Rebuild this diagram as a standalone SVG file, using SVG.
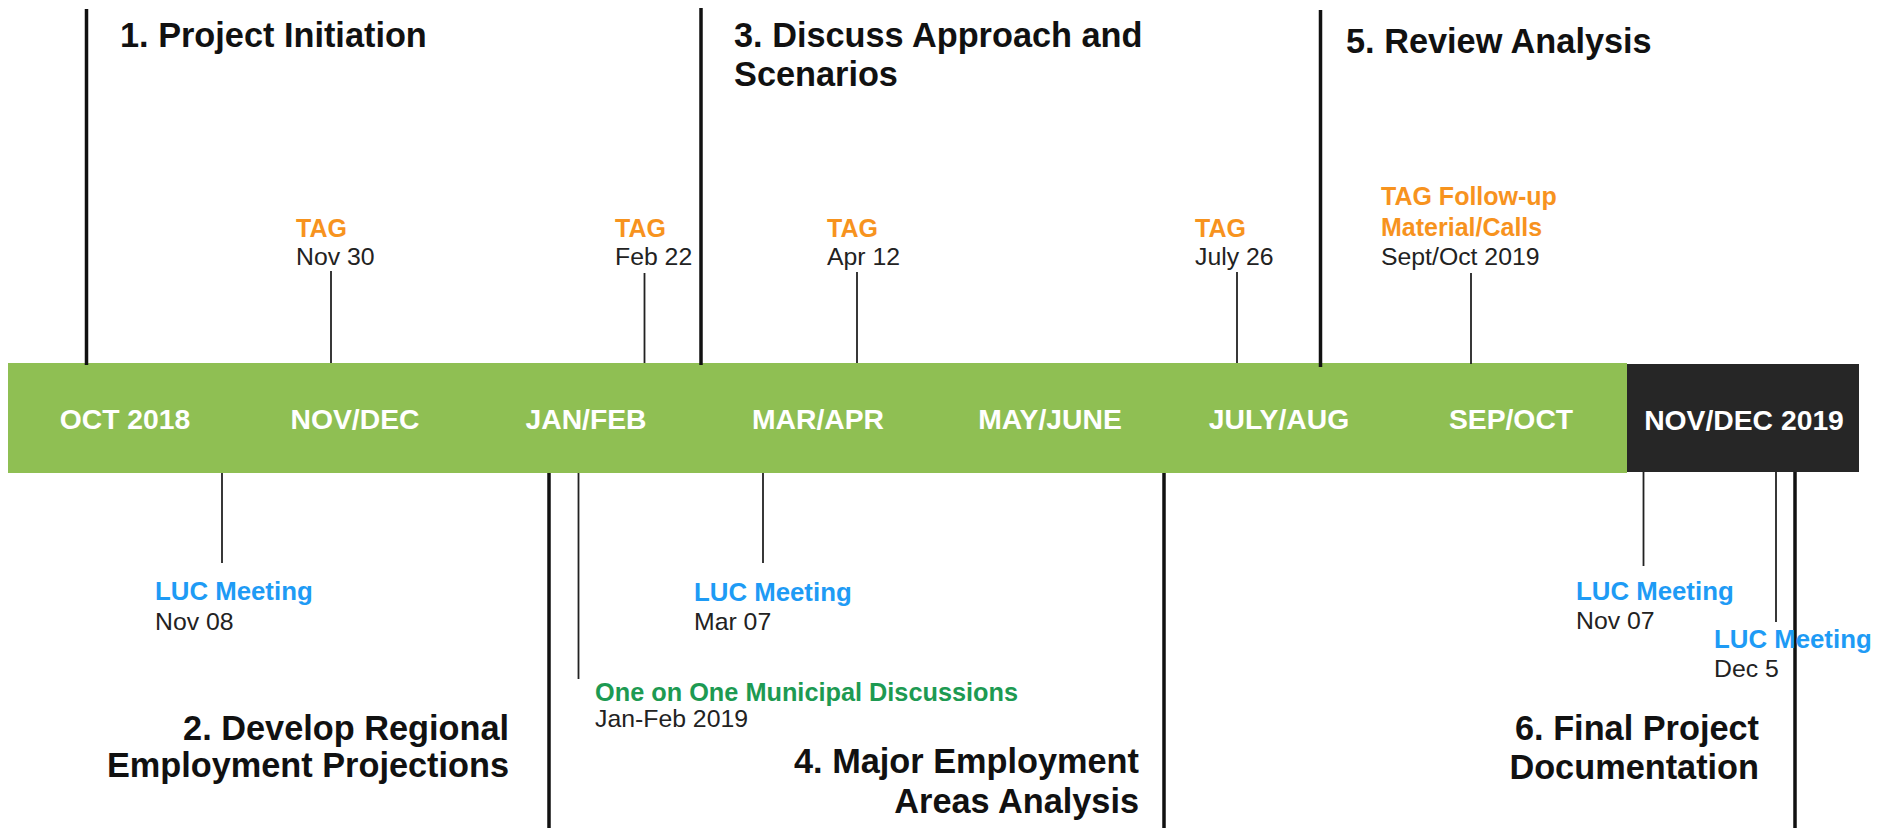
<svg xmlns="http://www.w3.org/2000/svg" width="1892" height="828" viewBox="0 0 1892 828">
<style>
text{font-family:"Liberation Sans",Arial,Helvetica,sans-serif}
.title{font-size:34.3px;font-weight:bold;fill:#111}
.month{font-size:28.3px;font-weight:bold;fill:#fff;text-anchor:middle}
.tag{font-size:25px;font-weight:bold;fill:#f7931e}
.luc{font-size:25.8px;font-weight:bold;fill:#1e9bf5}
.muni{font-size:25.3px;font-weight:bold;fill:#1d9a52}
.date{font-size:24.8px;fill:#222}
.phase{stroke:#111;stroke-width:3.5;fill:none}
.tick{stroke:#222;stroke-width:1.8;fill:none}
</style>
<rect width="1892" height="828" fill="#fff"/>
<g id="timeline">
<rect x="8" y="363" width="1619" height="110" fill="#8fbf53"/>
<rect x="1627" y="364" width="232" height="108" fill="#262626"/>
<text class="month" x="125" y="429">OCT 2018</text>
<text class="month" x="355" y="429">NOV/DEC</text>
<text class="month" x="586" y="429">JAN/FEB</text>
<text class="month" x="818" y="429">MAR/APR</text>
<text class="month" x="1050" y="429">MAY/JUNE</text>
<text class="month" x="1279" y="429">JULY/AUG</text>
<text class="month" x="1511" y="429">SEP/OCT</text>
<text class="month" x="1744" y="430">NOV/DEC 2019</text>
</g>
<g id="connectors">
<line class="phase" x1="86.5" y1="9" x2="86.5" y2="365"/>
<line class="phase" x1="701" y1="8" x2="701" y2="365"/>
<line class="phase" x1="1320.5" y1="10" x2="1320.5" y2="367"/>
<line class="phase" x1="549" y1="473" x2="549" y2="828"/>
<line class="phase" x1="1164" y1="473" x2="1164" y2="828"/>
<line class="phase" x1="1795" y1="472" x2="1795" y2="828"/>
<line class="tick" x1="331" y1="271" x2="331" y2="363"/>
<line class="tick" x1="644.5" y1="273" x2="644.5" y2="363"/>
<line class="tick" x1="857" y1="272" x2="857" y2="363"/>
<line class="tick" x1="1237" y1="272" x2="1237" y2="363"/>
<line class="tick" x1="1471" y1="273" x2="1471" y2="364"/>
<line class="tick" x1="222" y1="473" x2="222" y2="563"/>
<line class="tick" x1="578.5" y1="473" x2="578.5" y2="679"/>
<line class="tick" x1="763" y1="473" x2="763" y2="563"/>
<line class="tick" x1="1643.5" y1="472" x2="1643.5" y2="566"/>
<line class="tick" x1="1776" y1="472" x2="1776" y2="622"/>
</g>
<g id="phase1"><text class="title" x="120" y="47">1. Project Initiation</text></g>
<g id="phase3"><text class="title" x="734" y="47">3. Discuss Approach and</text><text class="title" x="734" y="86">Scenarios</text></g>
<g id="phase5"><text class="title" x="1346" y="53">5. Review Analysis</text></g>
<g id="phase2"><text class="title" text-anchor="end" x="509" y="740">2. Develop Regional</text><text class="title" text-anchor="end" x="509" y="777">Employment Projections</text></g>
<g id="phase4"><text class="title" text-anchor="end" x="1139" y="773">4. Major Employment</text><text class="title" text-anchor="end" x="1139" y="813">Areas Analysis</text></g>
<g id="phase6"><text class="title" text-anchor="end" x="1759" y="740">6. Final Project</text><text class="title" text-anchor="end" x="1759" y="779">Documentation</text></g>
<g id="tag-nov30"><text class="tag" x="296" y="237">TAG</text><text class="date" x="296" y="265">Nov 30</text></g>
<g id="tag-feb22"><text class="tag" x="615" y="237">TAG</text><text class="date" x="615" y="265">Feb 22</text></g>
<g id="tag-apr12"><text class="tag" x="827" y="237">TAG</text><text class="date" x="827" y="265">Apr 12</text></g>
<g id="tag-jul26"><text class="tag" x="1195" y="237">TAG</text><text class="date" x="1195" y="265">July 26</text></g>
<g id="tag-followup"><text class="tag" x="1381" y="205">TAG Follow-up</text><text class="tag" x="1381" y="236">Material/Calls</text><text class="date" x="1381" y="265">Sept/Oct 2019</text></g>
<g id="luc-nov08"><text class="luc" x="155" y="600">LUC Meeting</text><text class="date" x="155" y="630">Nov 08</text></g>
<g id="luc-mar07"><text class="luc" x="694" y="601">LUC Meeting</text><text class="date" x="694" y="630">Mar 07</text></g>
<g id="municipal"><text class="muni" x="595" y="701">One on One Municipal Discussions</text><text class="date" x="595" y="727">Jan-Feb 2019</text></g>
<g id="luc-nov07"><text class="luc" x="1576" y="600">LUC Meeting</text><text class="date" x="1576" y="629">Nov 07</text></g>
<g id="luc-dec5"><text class="luc" x="1714" y="648">LUC Meeting</text><text class="date" x="1714" y="677">Dec 5</text></g>
</svg>
